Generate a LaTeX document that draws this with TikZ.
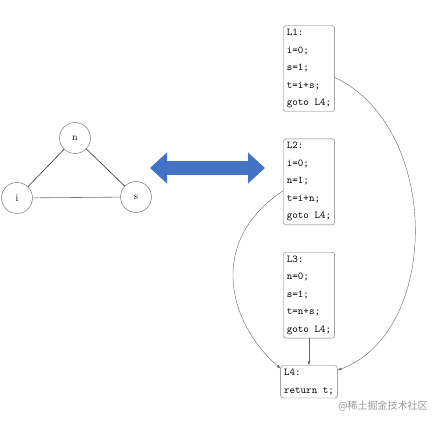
\documentclass[tikz,border=0pt]{standalone}
\usepackage{fontspec}
\newfontfamily\cjk{Noto Sans CJK SC}
\usepackage{xcolor}
\usetikzlibrary{shapes,arrows.meta,positioning}
\definecolor{arrowblue}{HTML}{4472C4}

\begin{document}
\begin{tikzpicture}[
			x=1pt, y=-1pt,
			node distance=27pt and 20pt,
			var/.style={circle, draw=black!60, thin, minimum size=31pt, inner sep=0pt, font=\fontsize{10}{12}\selectfont},
			codebox/.style={rectangle, draw=black!55, rounded corners=2.5pt, align=left, inner xsep=3.5pt, inner ysep=3.5pt, font=\ttfamily\fontsize{10.5}{17.5}\selectfont},
			edge/.style={draw=black!80, semithick},
			line/.style={draw=black!60, thin, -{Latex[length=4pt,width=3pt]}},
			bigarrow/.style={draw=arrowblue, line width=14pt, {Triangle[length=17pt,width=30pt]}-{Triangle[length=17pt,width=30pt]}}
			]
			\useasboundingbox (0,0) rectangle (434,422);
			% Grafo
			\node [var] (n) at (75,138) {n};
			\node [var] (i) at (17,198) {i};
			\node [var] (s) at (136,197) {s};
			\path [edge] (n) -- (i);
			\path [edge] (n) -- (s);
			\path [edge, draw=black!55] (i) -- (s);
			
			% Flecha doble
			\coordinate (linkL) at (150,168);
			\coordinate (linkR) at (265,168);
			\path [bigarrow] (linkL) -- (linkR);
			
			% Bloques
			\node [codebox] (L1) at (309,68.5) {L1:\\i=0;\\s=1;\\t=i+s;\\goto L4;};
			\node [codebox, below=of L1] (L2) {L2:\\i=0;\\n=1;\\t=i+n;\\goto L4;};
			\node [codebox, below=of L2] (L3) {L3:\\n=0;\\s=1;\\t=n+s;\\goto L4;};
			\node [codebox, below=of L3] (L4) {L4:\\return t;};
			
			% Saltos
			\path [line] (L1.-19) .. controls +(107,51) and +(103,-38) .. (L4.22);
			\path [line] (L2.199) .. controls +(-76,50) and +(-53,-46) .. (L4.155);
			\path [line] (L3) -- (L4);
			
			\node [text=black!40, font=\cjk\fontsize{10}{12}\selectfont] (mark) at (383,406) {@稀土掘金技术社区};
		\end{tikzpicture}
\end{document}
